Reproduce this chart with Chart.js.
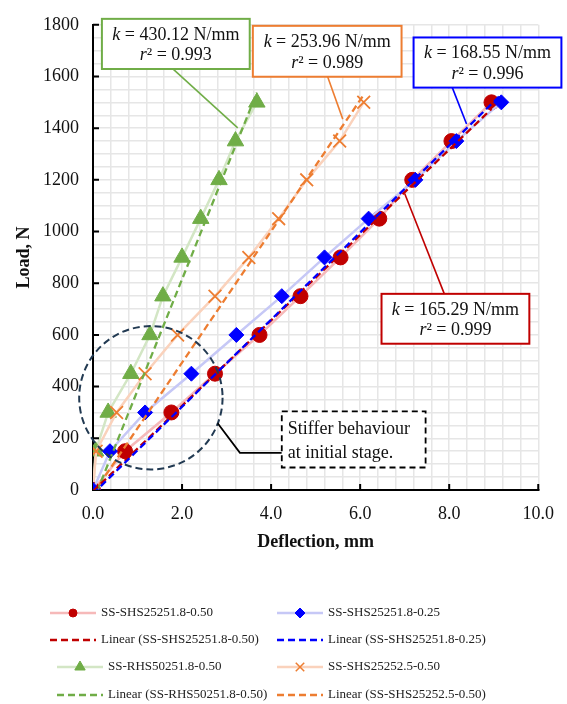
<!DOCTYPE html>
<html>
<head>
<meta charset="utf-8">
<script src="https://cdn.jsdelivr.net/npm/chart.js@4.4.1/dist/chart.umd.min.js"></script>
<style>
  html, body { margin: 0; padding: 0; background: #fff; }
  #wrap { width: 567px; height: 704px; position: relative; }
</style>
</head>
<body>
<div id="wrap"><canvas id="load-deflection-chart"></canvas></div>
<script>
// Load (N) against deflection (mm)
const loads = [0, 150, 300, 450, 600, 750, 900, 1050, 1200, 1350, 1500];
const deflSHS18_050 = [0, 0.72, 1.76, 2.74, 3.74, 4.66, 5.56, 6.43, 7.17, 8.05, 8.95];
const deflSHS18_025 = [0, 0.38, 1.17, 2.21, 3.22, 4.24, 5.20, 6.19, 7.24, 8.16, 9.17];
const deflRHS18_050 = [0, 0.06, 0.34, 0.85, 1.28, 1.57, 2.00, 2.42, 2.83, 3.20, 3.68];
const deflSHS25_050 = [0, 0.07, 0.53, 1.17, 1.90, 2.74, 3.50, 4.17, 4.80, 5.54, 6.08];

const seriesLabels = ['SS-SHS25251.8-0.50', 'SS-SHS25251.8-0.25', 'SS-RHS50251.8-0.50', 'SS-SHS25252.5-0.50'];

// linear trendlines (k in N/mm), intercepts
const trendSlopes = [165.29, 168.55, 430.12, 253.96];
const trendIntercepts = [-5, -15, -45, -15];
const r2Values = [0.999, 0.996, 0.993, 0.989];

const xTickStep = 2;
const yTickStep = 200;

const FONT = 'Liberation Serif';
const deflections = [deflSHS18_050, deflSHS18_025, deflRHS18_050, deflSHS25_050];

const styles = [
  { line: '#f6b9b9', mark: '#c00000', trend: '#c00000', shape: 'circle', r: 7.5, lr: 4 },
  { line: '#c6c8f6', mark: '#0000ff', trend: '#0000ff', shape: 'rectRot', r: 7.5, lr: 5 },
  { line: '#d3e6c5', mark: '#70ad47', trend: '#70ad47', shape: 'triangle', r: 9.5, lr: 6 },
  { line: '#fad2bc', mark: '#ed7d31', trend: '#ed7d31', shape: 'crossRot', r: 9, lr: 6 }
];

function pts(xs) {
  return xs.map((x, i) => ({ x: x, y: loads[i] }));
}
function trendPts(i) {
  const xmax = Math.max(...deflections[i]);
  return [
    { x: 0, y: trendIntercepts[i] },
    { x: xmax, y: trendSlopes[i] * xmax + trendIntercepts[i] }
  ];
}

const drawOrder = [3, 2, 5, 4]; // blue markers over red ones
const datasets = [];
deflections.forEach((d, i) => {
  const s = styles[i];
  datasets.push({
    label: seriesLabels[i],
    data: pts(d),
    showLine: true,
    borderColor: s.line,
    borderWidth: 2.5,
    pointStyle: s.shape,
    pointRadius: s.r,
    pointBackgroundColor: s.mark,
    pointBorderColor: s.mark,
    pointBorderWidth: s.shape === 'crossRot' ? 1.8 : 1,
    order: drawOrder[i]
  });
});
deflections.forEach((d, i) => {
  datasets.push({
    label: 'Linear (' + seriesLabels[i] + ')',
    data: trendPts(i),
    showLine: true,
    borderColor: styles[i].trend,
    borderWidth: 2.3,
    borderDash: [7, 4],
    pointRadius: 0,
    order: i === 1 ? 0 : 1
  });
});

// callout boxes, in data units: box [x0, x1, yTop, yBottom], leader [x1, y1, x2, y2]
const callouts = [
  { s: 0, box: [6.48, 9.80, 759, 566], lead: [7.89, 759, 7.0, 1147] },
  { s: 1, box: [7.20, 10.52, 1751, 1557], lead: [8.07, 1557, 8.39, 1416] },
  { s: 2, box: [0.20, 3.52, 1823, 1629], lead: [1.77, 1633, 3.25, 1401] },
  { s: 3, box: [3.59, 6.93, 1796, 1599], lead: [5.27, 1599, 5.61, 1435] }
];

function drawMixed(ctx, parts, cx, cy) {
  let w = 0;
  parts.forEach(p => { ctx.font = p.f; w += ctx.measureText(p.t).width; });
  let x = cx - w / 2;
  parts.forEach(p => {
    ctx.font = p.f;
    ctx.fillText(p.t, x, cy);
    x += ctx.measureText(p.t).width;
  });
}

const extras = {
  id: 'extras',
  afterDatasetsDraw(chart) {
    const ctx = chart.ctx;
    const xs = chart.scales.x, ys = chart.scales.y;
    const X = v => xs.getPixelForValue(v);
    const Y = v => ys.getPixelForValue(v);
    const area = chart.chartArea;
    ctx.save();

    // inward tick marks
    ctx.strokeStyle = '#000';
    ctx.lineWidth = 2;
    ctx.beginPath();
    for (let v = xTickStep; v <= xs.max + 1e-9; v += xTickStep) {
      ctx.moveTo(X(v), area.bottom);
      ctx.lineTo(X(v), area.bottom - 6);
    }
    for (let v = yTickStep; v <= ys.max + 1e-9; v += yTickStep) {
      ctx.moveTo(area.left, Y(v));
      ctx.lineTo(area.left + 6, Y(v));
    }
    ctx.stroke();

    // dashed circle around the initial stage
    const cxp = X(1.30), cyp = Y(357), rad = X(1.30 + 1.61) - cxp;
    ctx.strokeStyle = '#223a52';
    ctx.lineWidth = 2;
    ctx.setLineDash([7, 4]);
    ctx.beginPath();
    ctx.arc(cxp, cyp, rad, 0, Math.PI * 2);
    ctx.stroke();
    ctx.setLineDash([]);

    // note leader + box
    ctx.strokeStyle = '#000';
    ctx.lineWidth = 1.8;
    ctx.beginPath();
    ctx.moveTo(X(2.80), Y(258));
    ctx.lineTo(X(3.30), Y(144));
    ctx.lineTo(X(4.24), Y(144));
    ctx.stroke();
    const nx0 = X(4.24), nx1 = X(7.47), ny0 = Y(304), ny1 = Y(87);
    ctx.fillStyle = '#fff';
    ctx.fillRect(nx0, ny0, nx1 - nx0, ny1 - ny0);
    ctx.setLineDash([6, 4]);
    ctx.strokeRect(nx0, ny0, nx1 - nx0, ny1 - ny0);
    ctx.setLineDash([]);
    ctx.fillStyle = '#111';
    ctx.font = '18px ' + FONT;
    ctx.textAlign = 'left';
    ctx.textBaseline = 'middle';
    ctx.fillText('Stiffer behaviour', nx0 + 6, ny0 + 0.32 * (ny1 - ny0));
    ctx.fillText('at initial stage.', nx0 + 6, ny0 + 0.74 * (ny1 - ny0));

    // trendline callouts
    callouts.forEach(c => {
      const col = styles[c.s].trend;
      ctx.strokeStyle = col;
      ctx.lineWidth = 1.6;
      ctx.beginPath();
      ctx.moveTo(X(c.lead[0]), Y(c.lead[1]));
      ctx.lineTo(X(c.lead[2]), Y(c.lead[3]));
      ctx.stroke();
      const bx0 = X(c.box[0]), bx1 = X(c.box[1]), by0 = Y(c.box[2]), by1 = Y(c.box[3]);
      ctx.fillStyle = '#fff';
      ctx.fillRect(bx0, by0, bx1 - bx0, by1 - by0);
      ctx.lineWidth = 2;
      ctx.strokeRect(bx0, by0, bx1 - bx0, by1 - by0);
      ctx.fillStyle = '#111';
      ctx.textAlign = 'left';
      const cx = (bx0 + bx1) / 2;
      drawMixed(ctx, [
        { t: 'k', f: 'italic 18px ' + FONT },
        { t: ' = ' + trendSlopes[c.s].toFixed(2) + ' N/mm', f: '18px ' + FONT }
      ], cx, by0 + 0.32 * (by1 - by0));
      drawMixed(ctx, [
        { t: 'r', f: 'italic 18px ' + FONT },
        { t: '\u00b2 = ' + r2Values[c.s].toFixed(3), f: '18px ' + FONT }
      ], cx, by0 + 0.73 * (by1 - by0));
    });
    ctx.restore();
  },
  afterDraw(chart) {
    // legend, two columns
    const ctx = chart.ctx;
    const entries = [0, 1, 4, 5, 2, 3, 6, 7];
    const slots = [[50, 613], [277, 613], [50, 640], [277, 640], [57, 667], [277, 667], [57, 695], [277, 695]];
    ctx.save();
    entries.forEach((di, k) => {
      const ds = chart.data.datasets[di];
      const [x, y] = slots[k];
      const len = 46;
      ctx.strokeStyle = ds.borderColor;
      ctx.lineWidth = 2.5;
      ctx.setLineDash(ds.borderDash || []);
      ctx.beginPath();
      ctx.moveTo(x, y);
      ctx.lineTo(x + len, y);
      ctx.stroke();
      ctx.setLineDash([]);
      if (di < 4) {
        const s = styles[di];
        ctx.fillStyle = s.mark;
        ctx.strokeStyle = s.mark;
        ctx.lineWidth = s.shape === 'crossRot' ? 1.5 : 1;
        Chart.helpers.drawPoint(ctx, { pointStyle: s.shape, radius: s.lr, rotation: 0, borderWidth: ctx.lineWidth }, x + len / 2, y);
      }
      ctx.fillStyle = '#222';
      ctx.font = '13px ' + FONT;
      ctx.textAlign = 'left';
      ctx.textBaseline = 'middle';
      ctx.fillText(ds.label, x + len + 5, y);
    });
    ctx.restore();
  }
};

const ctx = document.getElementById('load-deflection-chart');

new Chart(ctx, {
  type: 'scatter',
  data: { datasets: datasets },
  options: {
    responsive: true,
    maintainAspectRatio: false,
    animation: false,
    layout: { padding: { top: 16, right: 28, left: 0, bottom: 144 } },
    plugins: {
      legend: { display: false },
      tooltip: { enabled: false }
    },
    scales: {
      x: {
        type: 'linear',
        min: 0,
        max: 10,
        afterBuildTicks: axis => {
          const t = [];
          for (let i = 0; i <= 25; i++) t.push({ value: i * 0.4 });
          axis.ticks = t;
        },
        afterFit: s => { s.height = 70; },
        grid: { color: '#e6e6e6', lineWidth: 1.5, drawTicks: false },
        border: { color: '#000', width: 2 },
        ticks: {
          autoSkip: false,
          maxRotation: 0,
          padding: 13,
          color: '#111',
          font: { family: FONT, size: 18 },
          callback: v => {
            const q = v / xTickStep;
            return Math.abs(q - Math.round(q)) < 1e-6 ? v.toFixed(1) : '';
          }
        },
        title: {
          display: true,
          text: 'Deflection, mm',
          color: '#111',
          font: { family: FONT, size: 18, weight: 'bold' },
          padding: { top: 0, bottom: 7 }
        }
      },
      y: {
        min: 0,
        max: 1800,
        afterFit: s => { s.width = 93; },
        grid: { color: '#e6e6e6', lineWidth: 1.5, drawTicks: false },
        border: { color: '#000', width: 2 },
        ticks: {
          stepSize: 50,
          autoSkip: false,
          padding: 14,
          color: '#111',
          font: { family: FONT, size: 18 },
          callback: v => (v % yTickStep === 0 ? v : '')
        },
        title: {
          display: true,
          text: 'Load, N',
          color: '#111',
          font: { family: FONT, size: 18, weight: 'bold' },
          padding: { top: 14, bottom: 0 }
        }
      }
    }
  },
  plugins: [extras]
});
</script>
</body>
</html>
